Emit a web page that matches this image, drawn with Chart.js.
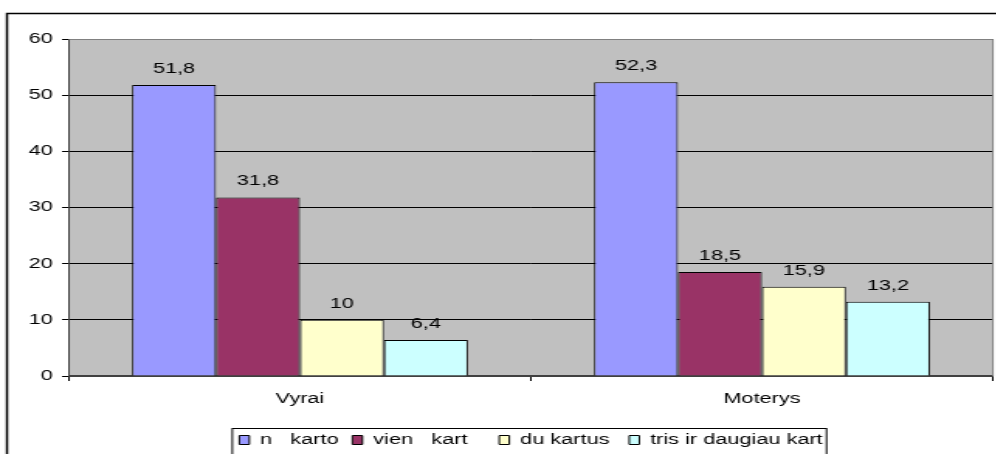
<!DOCTYPE html>
<html>
<head>
<meta charset="utf-8">
<script src="https://cdn.jsdelivr.net/npm/chart.js@4.4.0/dist/chart.umd.min.js"></script>
<style>
  html, body { margin: 0; padding: 0; background: #fff; overflow: hidden; }
  /* the original chart is stretched sideways, so the canvas is drawn narrow and widened */
  #myChart { display: block; transform: scaleX(1.55); transform-origin: 0 0; }
</style>
</head>
<body>
<canvas id="myChart" width="643" height="470"></canvas>
<script>
// data
const categories = ['Vyrai', 'Moterys'];
// the lost Lithuanian letters leave gaps in the original legend
const seriesNames = ['n   karto ', 'vien   kart    ', 'du kartus  ', 'tris ir daugiau kart'];
const noneValues = [51.8, 52.3];
const onceValues = [31.8, 18.5];
const twiceValues = [10, 15.9];
const threePlusValues = [6.4, 13.2];
const yTicks = [0, 10, 20, 30, 40, 50, 60];

const barColors = ['#9999FF', '#993366', '#FFFFCC', '#CCFFFF'];
const FONT = 'Arial, "Liberation Sans", sans-serif';

// grey plot area + outer frame
const backgroundPlugin = {
    id: 'bgPlot',
    beforeDraw(chart) {
        const { ctx, chartArea: a } = chart;
        ctx.save();
        ctx.strokeStyle = '#000';
        ctx.lineWidth = 1.5;
        ctx.strokeRect(4.5, 13.5, 1000, 1000); // outer chart frame, only top/left visible
        ctx.fillStyle = '#C0C0C0';
        ctx.fillRect(a.left, a.top, a.right - a.left, a.bottom - a.top);
        ctx.restore();
    },
    afterDraw(chart) {
        const { ctx, chartArea: a } = chart;
        ctx.save();
        ctx.strokeStyle = '#808080';
        ctx.lineWidth = 1;
        ctx.beginPath();
        ctx.moveTo(a.left, a.top + 0.5);
        ctx.lineTo(a.right, a.top + 0.5);
        ctx.lineTo(a.right, a.bottom);
        ctx.stroke();

        // legend frame
        const boxes = chart.legend.legendHitBoxes;
        if (boxes && boxes.length) {
            const first = boxes[0], last = boxes[boxes.length - 1];
            const x1 = first.left - 4.5, x2 = last.left + last.width + 2.5;
            ctx.strokeStyle = '#000';
            ctx.strokeRect(x1, chart.legend.top + 0.5, x2 - x1, 60);
        }
        ctx.restore();
    }
};

// value labels above bars, comma as decimal separator
const valueLabels = {
    id: 'valueLabels',
    afterDatasetsDraw(chart) {
        const { ctx } = chart;
        ctx.save();
        ctx.font = '14px ' + FONT;
        ctx.fillStyle = '#000';
        ctx.textAlign = 'center';
        ctx.textBaseline = 'bottom';
        chart.data.datasets.forEach((ds, i) => {
            chart.getDatasetMeta(i).data.forEach((bar, j) => {
                const txt = String(ds.data[j]).replace('.', ',');
                ctx.fillText(txt, bar.x, bar.y - 9);
            });
        });
        ctx.restore();
    }
};

const seriesData = [noneValues, onceValues, twiceValues, threePlusValues];

new Chart(document.getElementById('myChart'), {
    type: 'bar',
    data: {
        labels: categories,
        datasets: seriesNames.map((name, i) => ({
            label: name,
            data: seriesData[i],
            backgroundColor: barColors[i],
            borderColor: '#000',
            borderWidth: 1,
            categoryPercentage: 0.727,
            barPercentage: 1
        }))
    },
    options: {
        responsive: false,
        animation: false,
        devicePixelRatio: 1,
        layout: { padding: { left: 0, right: 2.4, top: 39, bottom: 13 } },
        scales: {
            x: {
                grid: { drawOnChartArea: false, offset: true, tickLength: 5, color: '#000' },
                border: { color: '#404040', width: 2 },
                ticks: { color: '#000', font: { family: FONT, size: 14 }, padding: 10 },
                afterFit(scale) { scale.height = 52; }
            },
            y: {
                min: 0,
                max: 60,
                afterBuildTicks(scale) { scale.ticks = yTicks.map(v => ({ value: v })); },
                grid: { color: '#000', lineWidth: 1, tickLength: 4.5 },
                border: { color: '#404040', width: 1 },
                ticks: { color: '#000', font: { family: FONT, size: 14 }, padding: 6 },
                afterFit(scale) { scale.width = 44.5; }
            }
        },
        plugins: {
            legend: {
                position: 'bottom',
                fullSize: false,
                labels: {
                    color: '#000',
                    font: { family: FONT, size: 14 },
                    boxWidth: 6.5,
                    boxHeight: 9,
                    padding: 5
                }
            },
            tooltip: { enabled: false }
        }
    },
    plugins: [backgroundPlugin, valueLabels]
});
</script>
</body>
</html>
